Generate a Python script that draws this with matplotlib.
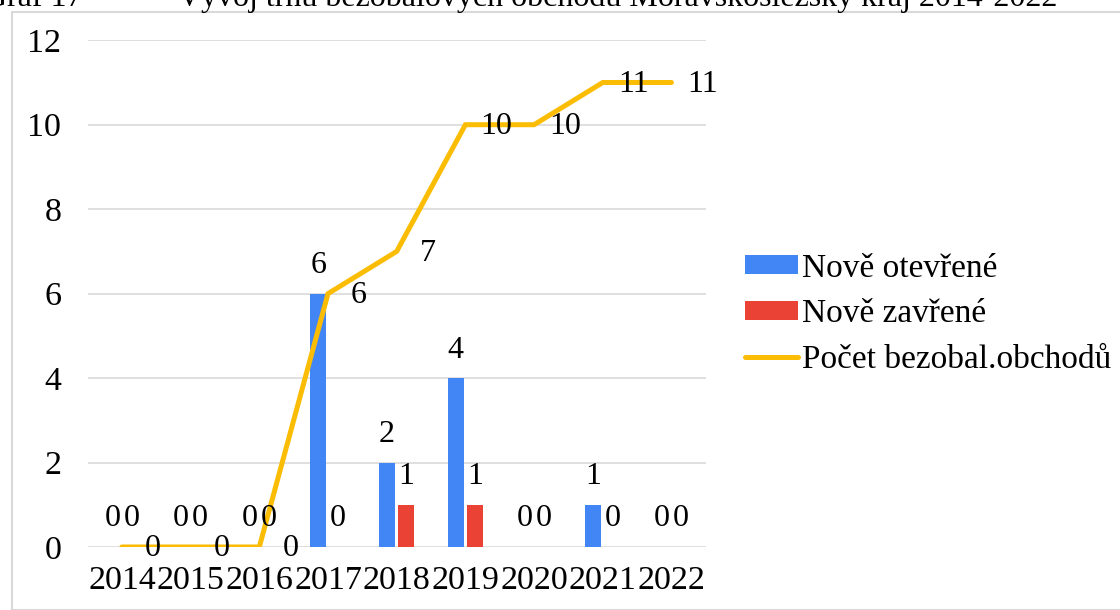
import matplotlib
matplotlib.use("Agg")
import matplotlib.pyplot as plt
import numpy as np
from matplotlib.patches import Rectangle

years = ["2014", "2015", "2016", "2017", "2018", "2019", "2020", "2021", "2022"]
opened = [0, 0, 0, 6, 2, 4, 0, 1, 0]
closed = [0, 0, 0, 0, 1, 1, 0, 0, 0]
total = [0, 0, 0, 6, 7, 10, 10, 11, 11]
labels = ["Nově otevřené", "Nově zavřené", "Počet bezobal.obchodů"]
title = "Graf 17            Vývoj trhu bezobalových obchodů Moravskoslezský kraj 2014-2022"

BLUE, RED, YELLOW = "#4285F4", "#EA4335", "#FBBC04"
GRID = "#d9d9d9"

plt.rcParams["font.family"] = ["Liberation Serif", "DejaVu Serif"]

fig = plt.figure(figsize=(11.2, 6.1), dpi=100)
ax = fig.add_axes([0.0782, 0.1033, 0.552, 0.8307])

x = np.arange(len(years))
w = 0.23
off = 0.14
b1 = ax.bar(x - off, opened, w, color=BLUE, label=labels[0], zorder=2)
b2 = ax.bar(x + off, closed, w, color=RED, label=labels[1], zorder=2)
ln, = ax.plot(x, total, color=YELLOW, lw=3.6, solid_capstyle="round",
              solid_joinstyle="miter", label=labels[2], zorder=3)

# data labels: bars above the top, line to the right of the point
for xi, v in zip(x - off, opened):
    ax.annotate(str(v), (xi, v), xytext=(0, 28), textcoords="offset pixels",
                ha="center", va="center", fontsize=23, zorder=4)
for xi, v in zip(x + off, closed):
    ax.annotate(str(v), (xi, v), xytext=(0, 28), textcoords="offset pixels",
                ha="center", va="center", fontsize=23, zorder=4)
for xi, v in zip(x, total):
    ax.annotate(str(v), (xi, v), xytext=(31, -2), textcoords="offset pixels",
                ha="center", va="center", fontsize=23, zorder=4)

ax.set_xlim(-0.5, len(years) - 0.5)
ax.set_ylim(0, 12)
ax.set_yticks(range(0, 13, 2))
ax.set_xticks(x)
ax.set_xticklabels(years)
ax.tick_params(axis="both", length=0, labelsize=24.5)
ax.tick_params(axis="y", pad=19)
ax.tick_params(axis="x", pad=13)
ax.grid(axis="y", color=GRID, lw=1.2, zorder=0)
ax.set_axisbelow(True)
for s in ax.spines.values():
    s.set_visible(False)

fig.legend(handles=[b1, b2, ln], labels=labels, loc="center left",
           bbox_to_anchor=(745 / 1120, (610 - 314) / 610), frameon=False,
           fontsize=24, handlelength=1.6, handleheight=0.5, handletextpad=0.12,
           labelspacing=0.45, borderpad=0, borderaxespad=0)

fig.patches.append(Rectangle((12 / 1120, 0), 1.1, (610 - 12) / 610,
                             transform=fig.transFigure, fill=False,
                             edgecolor=GRID, lw=1.5))
fig.text(-0.014, 1 - 6 / 610, title, ha="left", va="baseline", fontsize=23)

fig.savefig("out.png", dpi=100)
